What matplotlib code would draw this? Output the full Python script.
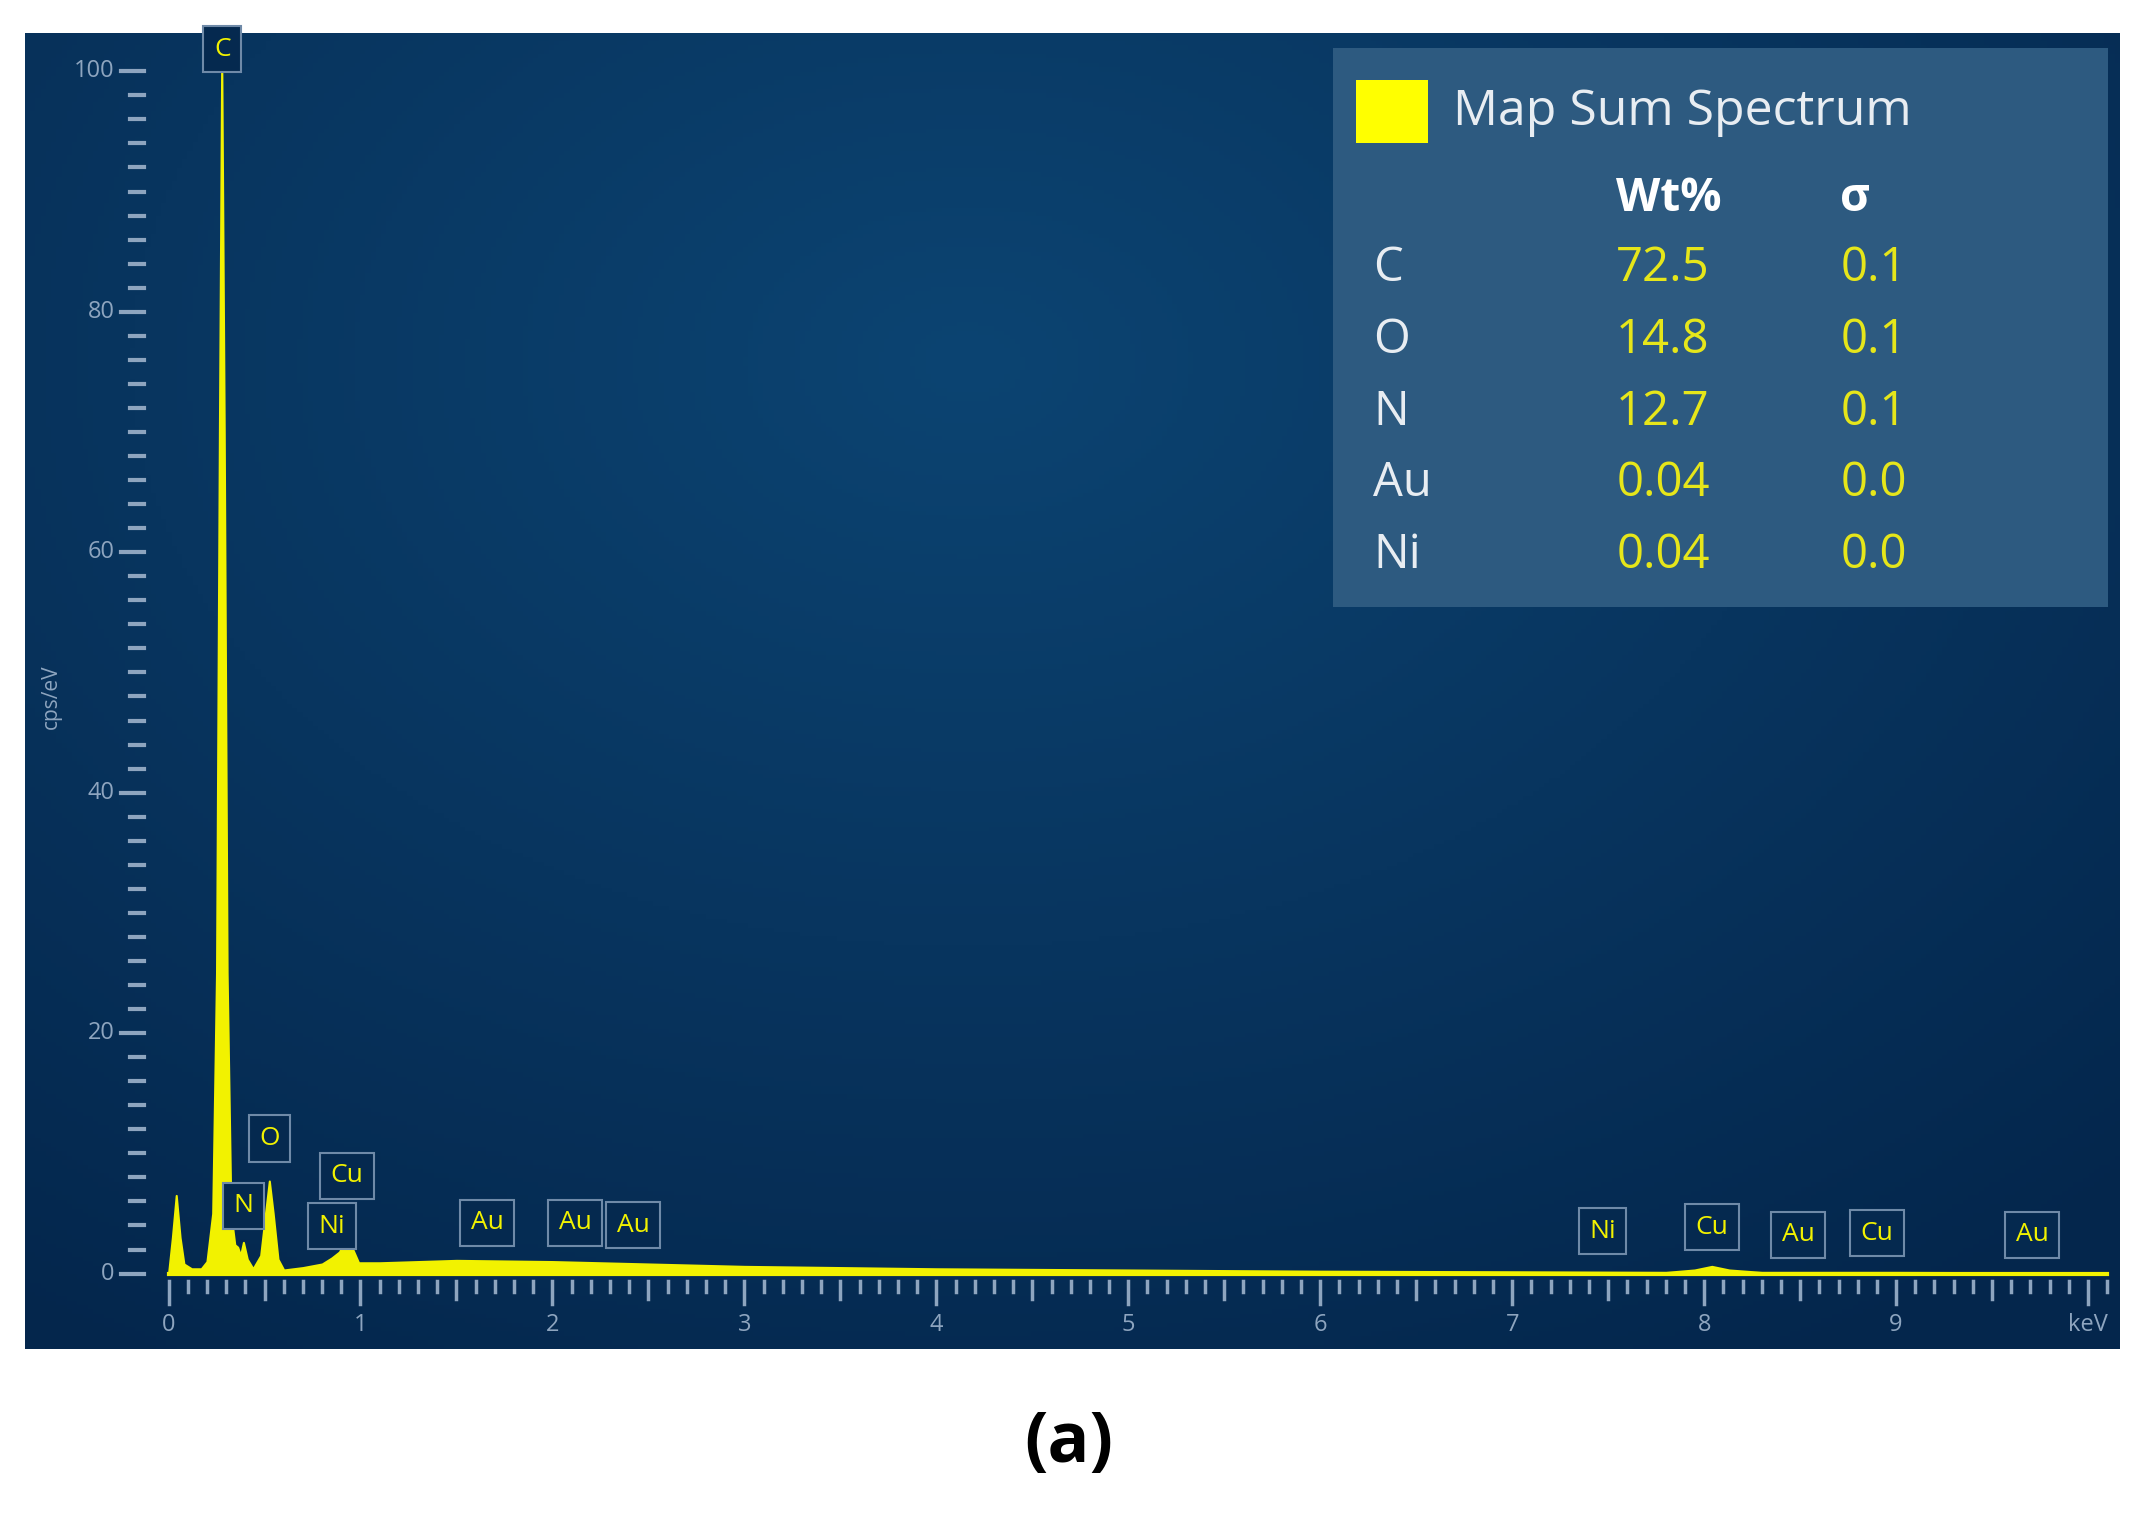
import numpy as np
import matplotlib
matplotlib.use("Agg")
import matplotlib.pyplot as plt
from matplotlib.patches import Rectangle

plt.rcParams['font.family'] = ['Open Sans', 'DejaVu Sans']

# spectrum (keV, cps/eV)
energy = [0.0, 0.02, 0.04, 0.06, 0.08, 0.12, 0.17, 0.2, 0.23, 0.25, 0.265, 0.277, 0.29, 0.305,
          0.325, 0.345, 0.36, 0.375, 0.39, 0.41, 0.44, 0.48, 0.505, 0.525, 0.545, 0.57, 0.6, 0.7,
          0.8, 0.85, 0.89, 0.93, 0.96, 0.99, 1.1, 1.5, 2.0, 2.5, 3.0, 4.0, 5.0, 6.0, 7.0,
          7.8, 7.95, 8.04, 8.13, 8.3, 9.0, 10.1]
counts = [0.0, 3.0, 6.5, 3.0, 0.8, 0.4, 0.4, 1.0, 5.0, 25, 70, 101, 70, 25,
          5.0, 2.4, 2.2, 1.5, 2.6, 1.2, 0.4, 1.5, 5.0, 7.7, 5.0, 1.2, 0.3, 0.5,
          0.8, 1.3, 1.8, 3.0, 2.0, 0.9, 0.9, 1.1, 1.0, 0.8, 0.6, 0.4, 0.3, 0.2, 0.15,
          0.1, 0.3, 0.6, 0.3, 0.1, 0.1, 0.05]

peak_names = ['C', 'N', 'O', 'Ni', 'Cu', 'Au', 'Au', 'Au', 'Ni', 'Cu', 'Au', 'Cu', 'Au']
peak_pos = [0.28, 0.39, 0.525, 0.85, 0.93, 1.66, 2.12, 2.42, 7.47, 8.04, 8.49, 8.9, 9.71]
peak_lab_y = [100.8, 4.6, 10.2, 2.9, 7.1, 3.2, 3.2, 3.0, 2.5, 2.8, 2.2, 2.3, 2.2]

elements = ['C', 'O', 'N', 'Au', 'Ni']
wt = ['72.5', '14.8', '12.7', '0.04', '0.04']
sigma = ['0.1', '0.1', '0.1', '0.0', '0.0']

tick_col = '#8ea5bf'
yel = '#f2f200'

fig = plt.figure(figsize=(21.38, 15.20), dpi=100)
ax = fig.add_axes([0.0115, 0.1126, 0.9795, 0.8658])
ax.set_xlim(-0.75, 10.16)
ax.set_ylim(-6.26, 103.2)
ax.axis('off')

# radial background
gx, gy = np.meshgrid(np.linspace(0, 1, 400), np.linspace(0, 1, 300))
r = np.sqrt(((gx - 0.45) * 1.0) ** 2 + ((gy - 0.75) * 0.9) ** 2)
r = np.clip(r / 0.8, 0, 1)
c0 = np.array([0x0c, 0x44, 0x72]) / 255
c1 = np.array([0x04, 0x26, 0x4c]) / 255
img = c0[None, None, :] * (1 - r[..., None]) + c1[None, None, :] * r[..., None]
ax.imshow(img, extent=[0, 1, 0, 1], transform=ax.transAxes, origin='lower', aspect='auto', zorder=0)

# spectrum
ax.fill_between(energy, 0, counts, color=yel, lw=1.5, zorder=3)
ax.plot([0, 10.1], [0, 0], color=yel, lw=3, zorder=3)

# y ticks
yx = -0.13
for v in np.arange(0, 101, 2):
    major = v % 20 == 0
    ax.plot([yx - (0.12 if major else 0.07), yx], [v, v], color=tick_col, lw=3, zorder=2)
    if major:
        ax.text(yx - 0.15, v, str(v), color=tick_col, fontsize=17, ha='right', va='center')
ax.text(-0.61, 48, 'cps/eV', color=tick_col, fontsize=15, rotation=90, ha='center', va='center')

# x ticks
for i in range(0, 102):
    v = i / 10
    ln = 1.9 if i % 10 == 0 else (1.5 if i % 5 == 0 else 0.9)
    ax.plot([v, v], [-0.6, -0.6 - ln], color=tick_col, lw=2.5, zorder=2)
for v in range(0, 10):
    ax.text(v, -4.3, str(v), color=tick_col, fontsize=17, ha='center', va='center')
ax.text(10.0, -4.3, 'keV', color=tick_col, fontsize=17, ha='center', va='center')

# peak labels
for name, x, y in zip(peak_names, peak_pos, peak_lab_y):
    ax.text(x, y, name, color=yel, fontsize=19, ha='center', va='bottom', zorder=5,
            bbox=dict(boxstyle='square,pad=0.4', fc='#05294f', ec='#6f8aa8', lw=1.5))

# result panel
ax.add_patch(Rectangle((0.625, 0.564), 0.37, 0.4246, transform=ax.transAxes,
                       fc='#2d5a80', ec='none', zorder=4))
ax.add_patch(Rectangle((0.636, 0.916), 0.034, 0.048, transform=ax.transAxes,
                       fc='#ffff00', ec='none', zorder=5))
ax.text(0.682, 0.94, 'Map Sum Spectrum', transform=ax.transAxes, color='#e8edf2',
        fontsize=36, va='center', zorder=5)
ax.text(0.760, 0.874, 'Wt%', transform=ax.transAxes, color='white', fontsize=33,
        fontweight='bold', va='center', zorder=5)
ax.text(0.867, 0.874, 'σ', transform=ax.transAxes, color='white', fontsize=33,
        fontweight='bold', va='center', zorder=5)
for k, (el, w, s) in enumerate(zip(elements, wt, sigma)):
    yy = 0.821 - k * 0.0545
    ax.text(0.644, yy, el, transform=ax.transAxes, color='#e8edf2', fontsize=34, va='center', zorder=5)
    ax.text(0.760, yy, w, transform=ax.transAxes, color='#e6e61a', fontsize=34, va='center', zorder=5)
    ax.text(0.867, yy, s, transform=ax.transAxes, color='#e6e61a', fontsize=34, va='center', zorder=5)

fig.text(0.5, 0.05, '(a)', fontsize=50, fontweight='bold', ha='center', va='center')

fig.savefig('out.png', dpi=100, facecolor='white')
